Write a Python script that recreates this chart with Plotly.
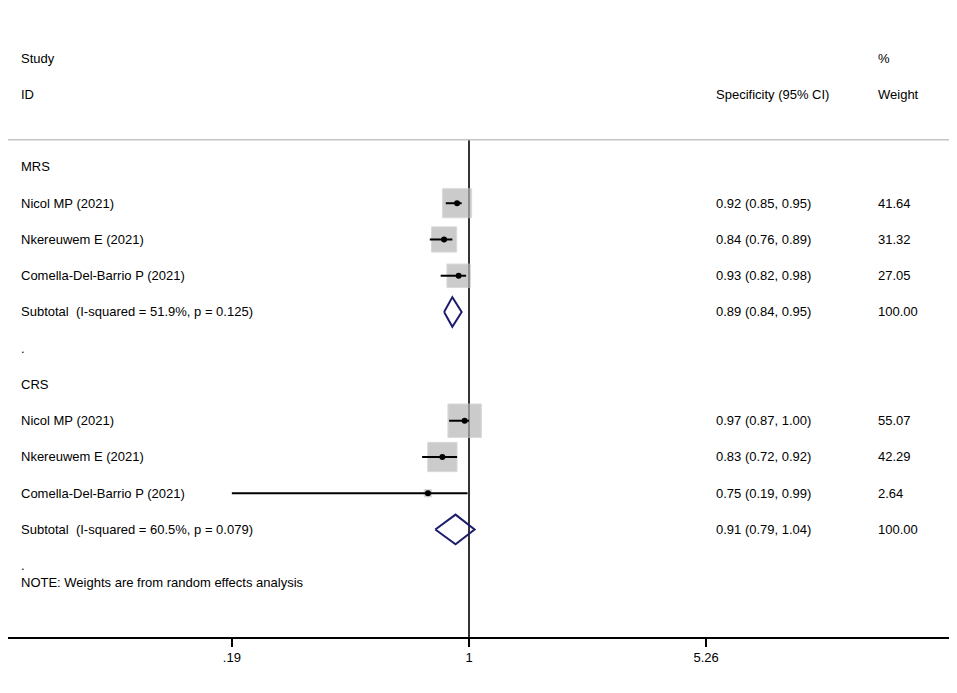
import math
import plotly.graph_objects as go

# ---------------- data ----------------
group_names = ["MRS", "CRS"]
studies = ["Nicol MP (2021)", "Nkereuwem E (2021)", "Comella-Del-Barrio P (2021)"]
mrs_est = [0.92, 0.84, 0.93]
mrs_lo = [0.85, 0.76, 0.82]
mrs_hi = [0.95, 0.89, 0.98]
mrs_wt = [41.64, 31.32, 27.05]
mrs_sub = [0.89, 0.84, 0.95]          # est, lo, hi
mrs_sub_label = "Subtotal  (I-squared = 51.9%, p = 0.125)"

crs_est = [0.97, 0.83, 0.75]
crs_lo = [0.87, 0.72, 0.19]
crs_hi = [1.00, 0.92, 0.99]
crs_wt = [55.07, 42.29, 2.64]
crs_sub = [0.91, 0.79, 1.04]
crs_sub_label = "Subtotal  (I-squared = 60.5%, p = 0.079)"

null_value = 1
tick_vals = [0.19, 1, 5.26]
tick_text = [".19", "1", "5.26"]
note_text = "NOTE: Weights are from random effects analysis"

# ---------------- layout constants ----------------
# the page body has an 8px margin, so the figure is sized to sit inside it
FONT = "Liberation Sans, Arial, sans-serif"
FS = 13
W, H = 947, 677
ML, MR, MT, MB = 0, 1, 0, 48
ROW_PX = 36.25
plot_h = H - MT - MB
plot_w = W - ML - MR
y_bottom = 12.966
y_top = y_bottom - plot_h / ROW_PX
X_LEFT, X_RIGHT = -1.402, 1.475   # log10 range
BOX_K = 4.5
DIAMOND_H = 0.41
HEADER_LINE_ROW = -0.75

fig = go.Figure()
ann = []

def paper_x(page_px):
    return (page_px - 8 - ML) / plot_w

COL_STUDY = paper_x(19)
COL_CI = paper_x(714)
COL_WT = paper_x(876)

def add_text(x, y, text, yref="y"):
    ann.append(dict(x=x, y=y, xref="paper", yref=yref, text=text, showarrow=False,
                    xanchor="left", yanchor="middle",
                    font=dict(family=FONT, size=FS, color="#000000")))

def fmt_ci(e, l, h):
    return f"{e:.2f} ({l:.2f}, {h:.2f})"

# null line at 1 (drawn first so boxes sit on top of it)
fig.add_trace(go.Scatter(x=[null_value, null_value], y=[HEADER_LINE_ROW, y_bottom],
                         mode="lines", line=dict(color="#333333", width=2),
                         hoverinfo="skip", showlegend=False, cliponaxis=False))

# headers
add_text(COL_STUDY, -3.0, "Study")
add_text(COL_STUDY, -2.0, "ID")
add_text(COL_WT, -3.0, "%")
add_text(COL_CI, -2.0, "Specificity (95% CI)")
add_text(COL_WT, -2.0, "Weight")

groups = [
    (group_names[0], mrs_est, mrs_lo, mrs_hi, mrs_wt, mrs_sub, mrs_sub_label, 0),
    (group_names[1], crs_est, crs_lo, crs_hi, crs_wt, crs_sub, crs_sub_label, 6),
]

for name, est, lo, hi, wt, sub, sublab, r0 in groups:
    add_text(COL_STUDY, r0, name)
    rows = [r0 + 1 + i for i in range(len(studies))]
    # boxes
    fig.add_trace(go.Scatter(
        x=est, y=rows, mode="markers",
        marker=dict(symbol="square", size=[BOX_K * math.sqrt(w) for w in wt],
                    color="#b6b6b6", line=dict(color="#c8c8c8", width=1)),
        hoverinfo="skip", showlegend=False))
    # CI lines
    for e, l, h, r in zip(est, lo, hi, rows):
        fig.add_trace(go.Scatter(x=[l, h], y=[r, r], mode="lines",
                                 line=dict(color="#000000", width=2),
                                 hoverinfo="skip", showlegend=False))
    # point estimates
    fig.add_trace(go.Scatter(
        x=est, y=rows, mode="markers",
        marker=dict(symbol="circle", size=6, color="#000000"),
        hoverinfo="skip", showlegend=False))
    for s, e, l, h, w, r in zip(studies, est, lo, hi, wt, rows):
        add_text(COL_STUDY, r, s)
        add_text(COL_CI, r, fmt_ci(e, l, h))
        add_text(COL_WT, r, f"{w:.2f}")
    # subtotal diamond
    rs = r0 + 4
    se, sl, sh = sub
    fig.add_trace(go.Scatter(
        x=[sl, se, sh, se, sl], y=[rs, rs - DIAMOND_H, rs, rs + DIAMOND_H, rs],
        mode="lines", line=dict(color="#1c1c6b", width=2),
        hoverinfo="skip", showlegend=False))
    add_text(COL_STUDY, rs, sublab)
    add_text(COL_CI, rs, fmt_ci(se, sl, sh))
    add_text(COL_WT, rs, "100.00")
    add_text(COL_STUDY, rs + 1, ".")

add_text(COL_STUDY, 11.45, note_text)

shapes = [
    # header separator
    dict(type="line", xref="paper", yref="y", x0=0.0, x1=1.0,
         y0=HEADER_LINE_ROW, y1=HEADER_LINE_ROW,
         line=dict(color="#c4c4c4", width=1.5)),
    # faint right border
    dict(type="line", xref="paper", yref="paper", x0=1.0005, x1=1.0005,
         y0=-MB / plot_h, y1=1.0, line=dict(color="#e6e6e6", width=1.5)),
]

fig.update_layout(
    width=W, height=H,
    margin=dict(l=ML, r=MR, t=MT, b=MB, pad=0),
    paper_bgcolor="#ffffff", plot_bgcolor="#ffffff",
    showlegend=False,
    annotations=ann,
    shapes=shapes,
    xaxis=dict(type="log", range=[X_LEFT, X_RIGHT], tickvals=tick_vals, ticktext=tick_text,
               showgrid=False, zeroline=False, showline=True, linecolor="#000000",
               linewidth=1.5, ticks="outside", ticklen=8, tickwidth=1.5, tickcolor="#000000",
               tickfont=dict(family=FONT, size=FS, color="#000000"), fixedrange=True),
    yaxis=dict(range=[y_bottom, y_top], showgrid=False, zeroline=False, showline=False,
               showticklabels=False, ticks="", fixedrange=True),
)

fig.write_html("out.html")
